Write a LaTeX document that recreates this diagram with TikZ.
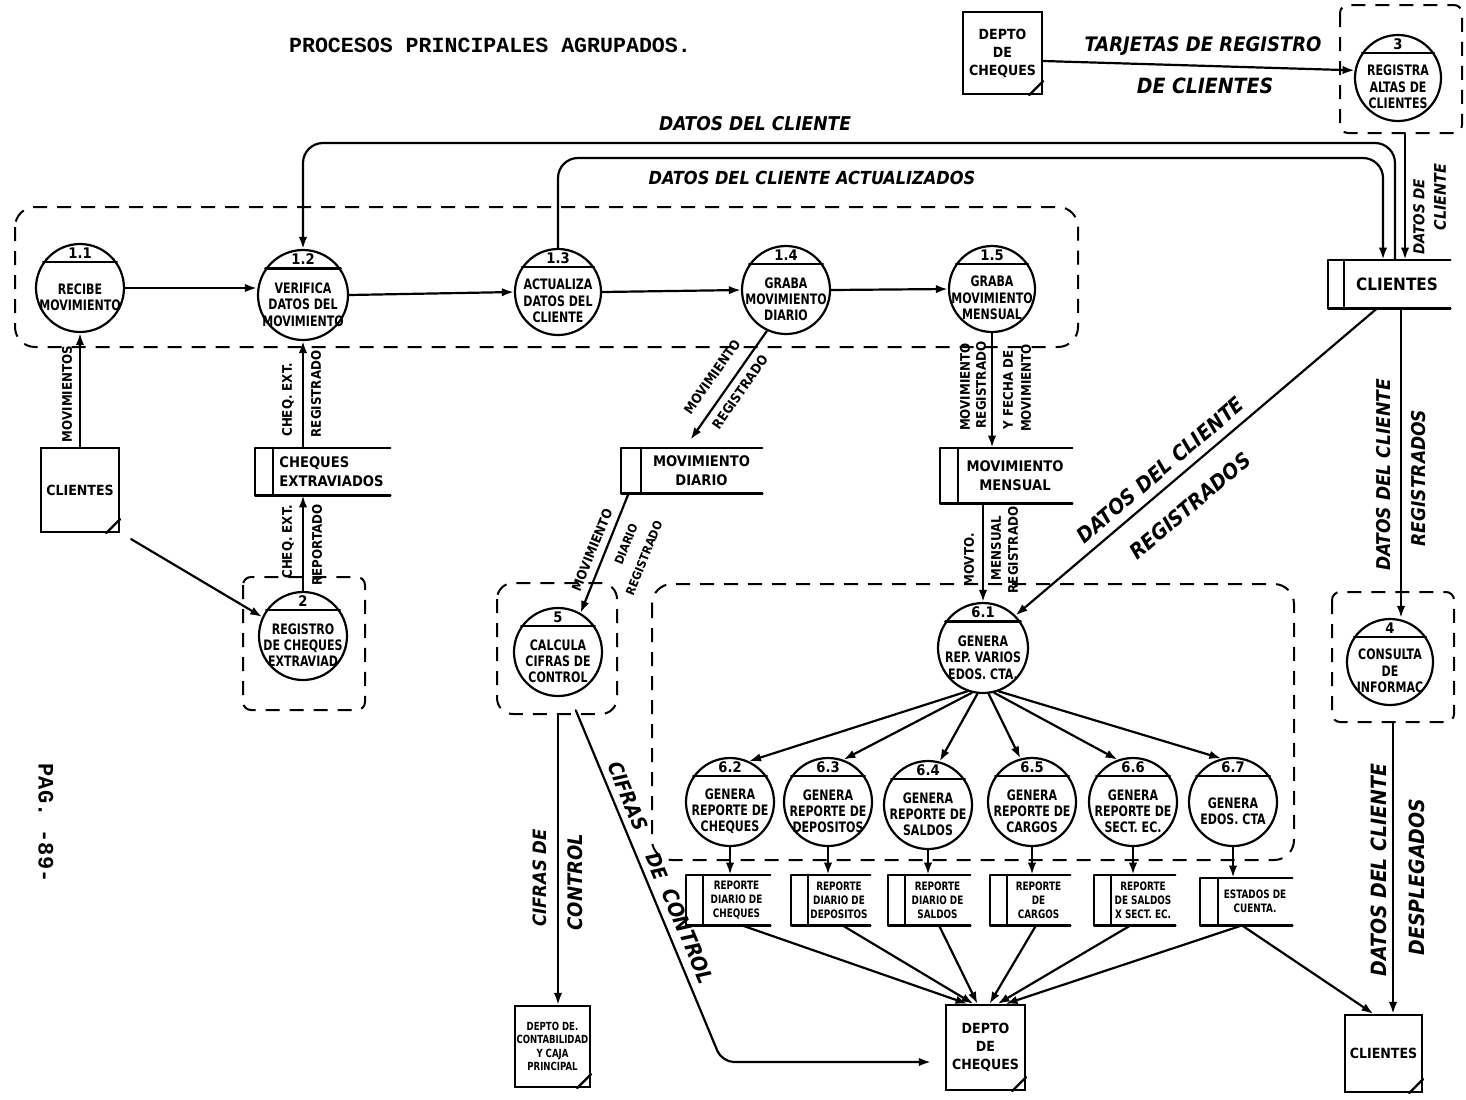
\documentclass[tikz,border=0pt]{standalone}
\usepackage{fontspec}
\newfontfamily\handfont{DejaVu Sans Condensed}
\newfontfamily\narrowfont{DejaVu Sans Condensed}[FakeStretch=0.85]
\newfontfamily\typefont{Liberation Mono}
\usetikzlibrary{arrows.meta,calc,fit}

\tikzset{
  every node/.style={inner sep=0pt},
  ln/.style={line width=1.1pt, line cap=round, line join=round},
  flow/.style={ln, -{Latex[length=6pt,width=4.2pt]}},
  grp/.style={line width=1pt, dash pattern=on 7pt off 5pt},
  procshape/.style={circle, draw, line width=1.1pt, inner sep=0pt},
  numtxt/.style={font=\handfont\bfseries\fontsize{7.3}{8}\selectfont},
  ptxt/.style={font=\narrowfont\bfseries\fontsize{7.2}{8.2}\selectfont, align=center},
  stxt/.style={font=\handfont\bfseries\fontsize{7.3}{9.5}\selectfont, align=center},
  sltxt/.style={font=\handfont\bfseries\fontsize{7.3}{9.5}\selectfont, align=left},
  rtxt/.style={font=\narrowfont\bfseries\fontsize{5.8}{7}\selectfont, align=center},
  etxt/.style={font=\handfont\bfseries\fontsize{7}{9}\selectfont, align=center},
  ctxt/.style={font=\narrowfont\bfseries\fontsize{5.6}{6.8}\selectfont, align=center},
  lbl/.style={font=\handfont\bfseries\fontsize{6.6}{7.5}\selectfont},
  big/.style={font=\handfont\bfseries\itshape\fontsize{#1}{#1}\selectfont},
}

% process bubble: name, x, y, radius, number, text
\newcommand\dfdproc[6]{%
  \node[procshape, minimum size=#4pt] (#1) at (#2,#3) {};
  \draw[ln] (#1.145) -- (#1.35);
  \node[numtxt] at ($(#1.north)+(0,0.235*#4)$) {#5};
  \node[ptxt] at ($(#1.center)+(0,0.21*#4)$) {#6};
}
% data store: name, x1, y1, x2, y2, compartment width, text style, text
\newcommand\dfdstore[8]{%
  \node[fit={(#2,#3) (#4,#5)}, inner sep=0pt] (#1) {};
  \draw[ln] (#1.north east) -- (#1.north west) -- (#1.south west) -- (#1.south east);
  \draw[ln] ($(#1.north west)+(#6,0)$) -- ($(#1.south west)+(#6,0)$);
  \node[#7] at ($(#1.center)+(0.5*#6,0)$) {#8};
}
% external entity: name, x1, y1, x2, y2, text style, text
\newcommand\dfdent[7]{%
  \node[fit={(#2,#3) (#4,#5)}, inner sep=0pt, draw, line width=1.1pt] (#1) {};
  \draw[ln] ([xshift=-7pt]#1.south east) -- ([yshift=7pt]#1.south east);
  \node[#6] at (#1.center) {#7};
}

\begin{document}
\begin{tikzpicture}[x=0.5pt, y=-0.5pt]
\useasboundingbox (0,0) rectangle (1466,1099);
\fill[white] (0,0) rectangle (1466,1099);

% headings
\node[font=\typefont\bfseries\fontsize{10.8}{12}\selectfont] (title) at (490,45) {PROCESOS PRINCIPALES AGRUPADOS.};
\node[font=\typefont\bfseries\fontsize{11}{12}\selectfont, rotate=-90] (pag) at (46,823) {PAG. -89-};

% grouping boundaries
\draw[grp, rounded corners=10pt] (15,207) rectangle (1078,347);
\draw[grp, rounded corners=4pt] (243,577) rectangle (365,710);
\draw[grp, rounded corners=4pt] (1340,5) rectangle (1462,133);
\draw[grp, rounded corners=4pt] (1332,592) rectangle (1454,722);
\draw[grp, rounded corners=8pt] (497,583) rectangle (617,714);
\draw[grp, rounded corners=10pt] (652,584) rectangle (1294,860);

% processes
\dfdproc{p11}{80}{288}{44}{1.1}{RECIBE\\MOVIMIENTO}
\dfdproc{p12}{303}{295}{45}{1.2}{VERIFICA\\DATOS DEL\\MOVIMIENTO}
\dfdproc{p13}{558}{292}{43}{1.3}{ACTUALIZA\\DATOS DEL\\CLIENTE}
\dfdproc{p14}{786}{290}{44}{1.4}{GRABA\\MOVIMIENTO\\DIARIO}
\dfdproc{p15}{992}{289}{43}{1.5}{GRABA\\MOVIMIENTO\\MENSUAL}
\dfdproc{p2}{303}{636}{44}{2}{REGISTRO\\DE CHEQUES\\EXTRAVIAD}
\dfdproc{p3}{1398}{78}{43}{3}{REGISTRA\\ALTAS DE\\CLIENTES}
\dfdproc{p4}{1390}{662}{43}{4}{CONSULTA\\DE\\INFORMAC}
\dfdproc{p5}{558}{652}{44}{5}{CALCULA\\CIFRAS DE\\CONTROL}
\dfdproc{p61}{983}{648}{45}{6.1}{GENERA\\REP. VARIOS\\EDOS. CTA.}
\dfdproc{p62}{730}{802}{44}{6.2}{GENERA\\REPORTE DE\\CHEQUES}
\dfdproc{p63}{828}{802}{44}{6.3}{GENERA\\REPORTE DE\\DEPOSITOS}
\dfdproc{p64}{928}{805}{44}{6.4}{GENERA\\REPORTE DE\\SALDOS}
\dfdproc{p65}{1032}{802}{44}{6.5}{GENERA\\REPORTE DE\\CARGOS}
\dfdproc{p66}{1133}{802}{44}{6.6}{GENERA\\REPORTE DE\\SECT. EC.}
\dfdproc{p67}{1233}{802}{44}{6.7}{GENERA\\EDOS. CTA}

% data stores
\dfdstore{sCli}{1328}{260}{1450}{308}{16}{font=\handfont\bfseries\fontsize{8.5}{10}\selectfont}{CLIENTES}
\dfdstore{sCE}{255}{448}{390}{495}{18}{sltxt}{CHEQUES\\EXTRAVIADOS}
\dfdstore{sMD}{621}{448}{762}{493}{20}{stxt}{MOVIMIENTO\\DIARIO}
\dfdstore{sMM}{940}{448}{1072}{503}{18}{stxt}{MOVIMIENTO\\MENSUAL}
\dfdstore{s62}{686}{875}{770}{925}{17}{rtxt}{REPORTE\\DIARIO DE\\CHEQUES}
\dfdstore{s63}{791}{875}{870}{925}{17}{rtxt}{REPORTE\\DIARIO DE\\DEPOSITOS}
\dfdstore{s64}{888}{875}{970}{925}{17}{rtxt}{REPORTE\\DIARIO DE\\SALDOS}
\dfdstore{s65}{990}{875}{1070}{925}{17}{rtxt}{REPORTE\\DE\\CARGOS}
\dfdstore{s66}{1094}{875}{1175}{925}{17}{rtxt}{REPORTE\\DE SALDOS\\X SECT. EC.}
\dfdstore{s67}{1200}{878}{1292}{925}{18}{rtxt}{ESTADOS DE\\CUENTA.}

% external entities
\dfdent{eDC1}{963}{12}{1042}{94}{etxt}{DEPTO\\DE\\CHEQUES}
\dfdent{eCL1}{41}{448}{119}{532}{etxt}{CLIENTES}
\dfdent{eCont}{515}{1006}{590}{1087}{ctxt}{DEPTO DE.\\CONTABILIDAD\\Y CAJA\\PRINCIPAL}
\dfdent{eDC2}{946}{1005}{1025}{1090}{etxt}{DEPTO\\DE\\CHEQUES}
\dfdent{eCL2}{1345}{1015}{1422}{1092}{etxt}{CLIENTES}

% client registration
\draw[flow] ([yshift=-4pt]eDC1.east) -- (p3.170);
\node[big=10] (lTar1) at (1203,46) {TARJETAS DE REGISTRO};
\node[big=10.5] (lTar2) at (1205,86) {DE CLIENTES};
\draw[flow, shorten <=6pt] ([xshift=3.5pt]p3.south) -- ([xshift=3.5pt]p3.south |- sCli.north);
\node[big=7.5, rotate=90] (lDC1) at (1419,217) {DATOS DE};
\node[big=8, rotate=90] (lDC2) at (1440,197) {CLIENTE};

% client data loops over the top
\coordinate (topA) at (0,143);
\coordinate (topB) at (0,158);
\draw[flow, rounded corners=10pt] ([xshift=3pt]sCli.north) -- ([xshift=3pt]sCli.north |- topA) -- (p12.north |- topA) -- (p12.north);
\draw[flow, rounded corners=10pt] (p13.north) -- (p13.north |- topB) -- ([xshift=-3pt]sCli.north |- topB) -- ([xshift=-3pt]sCli.north);
\node[big=9.5] (lDat) at (755,124) {DATOS DEL CLIENTE};
\node[big=9] (lAct) at (812,178) {DATOS DEL CLIENTE ACTUALIZADOS};

% main chain
\draw[flow] (p11.east) -- (p12.west |- p11.east);
\draw[flow] (p12.east) -- (p13.west);
\draw[flow] (p13.east) -- (p14.west);
\draw[flow] (p14.east) -- (p15.west);

% movements and lost cheques
\draw[flow] (eCL1.north -| p11.south) -- (p11.south);
\node[lbl, rotate=90] (lMov) at (67,394) {MOVIMIENTOS};
\draw[flow] (sCE.north -| p12.south) -- (p12.south);
\node[lbl, rotate=90] (lCE1) at (288,400) {CHEQ. EXT.};
\node[lbl, rotate=90] (lCE2) at (316,394) {REGISTRADO};
\draw[flow] (p2.north) -- (p2.north |- sCE.south);
\node[lbl, rotate=90] (lCE3) at (288,542) {CHEQ. EXT.};
\node[lbl, rotate=90] (lCE4) at (317,545) {REPORTADO};
\draw[flow] ([shift={(5.5pt,-3pt)}]eCL1.south east) -- (p2.155);

% daily and monthly movements
\draw[flow] (p14.245) -- ([shift={(35pt,4pt)}]sMD.north west);
\node[lbl, rotate=55] (lMD1) at (712,377) {MOVIMIENTO};
\node[lbl, rotate=55] (lMD2) at (740,392) {REGISTRADO};
\draw[flow] ([xshift=4pt]sMD.south west) -- (p5.60);
\node[lbl, rotate=68] (lMD3) at (592,550) {MOVIMIENTO};
\node[font=\handfont\bfseries\fontsize{6}{7}\selectfont, rotate=68] (lMD4) at (626,544) {DIARIO};
\node[font=\handfont\bfseries\fontsize{6}{7}\selectfont, rotate=68] (lMD5) at (644,558) {REGISTRADO};
\draw[flow] (p15.south) -- (p15.south |- sMM.north);
\node[lbl, rotate=90] (lMM1) at (965,387) {MOVIMIENTO};
\node[lbl, rotate=90] (lMM2) at (981,385) {REGISTRADO};
\node[lbl, rotate=90] (lMM3) at (1008,390) {Y FECHA DE};
\node[lbl, rotate=90] (lMM4) at (1026,388) {MOVIMIENTO};
\draw[flow] (sMM.south -| p61.north) -- (p61.north);
\node[lbl, rotate=90] (lMM5) at (969,560) {MOVTO.};
\node[lbl, rotate=90] (lMM6) at (996,548) {MENSUAL};
\node[lbl, rotate=90] (lMM7) at (1013,550) {REGISTRADO};

% registered client data
\draw[flow] ([xshift=-6pt]sCli.south) -- (p61.45);
\node[big=10.5, rotate=40.4] (lReg1) at (1160,470) {DATOS DEL CLIENTE};
\node[big=10.5, rotate=40.4] (lReg2) at (1190,506) {REGISTRADOS};
\draw[flow] ([xshift=6pt]sCli.south) -- ([xshift=6pt]sCli.south |- p4.north);
\node[big=9.5, rotate=90] (lReg3) at (1384,475) {DATOS DEL CLIENTE};
\node[big=9.5, rotate=90] (lReg4) at (1419,478) {REGISTRADOS};
\draw[flow, shorten <=8pt] ([xshift=1.5pt]p4.south) -- ([xshift=1.5pt]p4.south |- eCL2.north);
\node[big=10.5, rotate=90] (lDes1) at (1379,870) {DATOS DEL CLIENTE};
\node[big=10.5, rotate=90] (lDes2) at (1417,877) {DESPLEGADOS};

% report generation
\draw[flow] (p61.250) -- (p62.65);
\draw[flow] (p61.256) -- (p63.70);
\draw[flow] (p61.263) -- (p64.75);
\draw[flow] (p61.277) -- (p65.105);
\draw[flow] (p61.284) -- (p66.110);
\draw[flow] (p61.290) -- (p67.105);
\foreach \p/\s in {p62/s62, p63/s63, p64/s64, p65/s65, p66/s66, p67/s67}
  \draw[flow] (\p.south) -- (\p.south |- \s.north);

% reports to the cheque department and clients
\draw[flow] ([xshift=7pt]s62.south) -- ([xshift=-9pt]eDC2.north);
\draw[flow] ([xshift=6pt]s63.south) -- ([xshift=-6pt]eDC2.north);
\draw[flow] ([xshift=5pt]s64.south) -- ([xshift=-4pt]eDC2.north);
\draw[flow] ([xshift=3pt]s65.south) -- ([xshift=2pt]eDC2.north);
\draw[flow] ([xshift=-2pt]s66.south) -- ([xshift=6pt]eDC2.north);
\draw[flow] ([xshift=-2pt]s67.south) -- ([xshift=10pt]eDC2.north);
\draw[flow] ([xshift=-2pt]s67.south) -- ([xshift=-5pt]eCL2.north);

% control figures
\draw[flow, shorten <=9pt] (p5.south) -- (p5.south |- eCont.north);
\node[big=9.2, rotate=90] (lCif1) at (540,878) {CIFRAS DE};
\node[big=10, rotate=90] (lCif2) at (575,882) {CONTROL};
\coordinate (bendC) at (722,1062);
\draw[flow, rounded corners=6pt, shorten <=8pt, shorten >=7pt] (p5.285) -- (bendC) -- (eDC2.west |- bendC);
\node[big=10, rotate=-67.4] (lCif3) at (628,796) {CIFRAS};
\node[big=10, rotate=-67.4] (lCif4) at (657,866) {DE};
\node[big=10.5, rotate=-67.4] (lCif5) at (688,936) {CONTROL};
\end{tikzpicture}
\end{document}
